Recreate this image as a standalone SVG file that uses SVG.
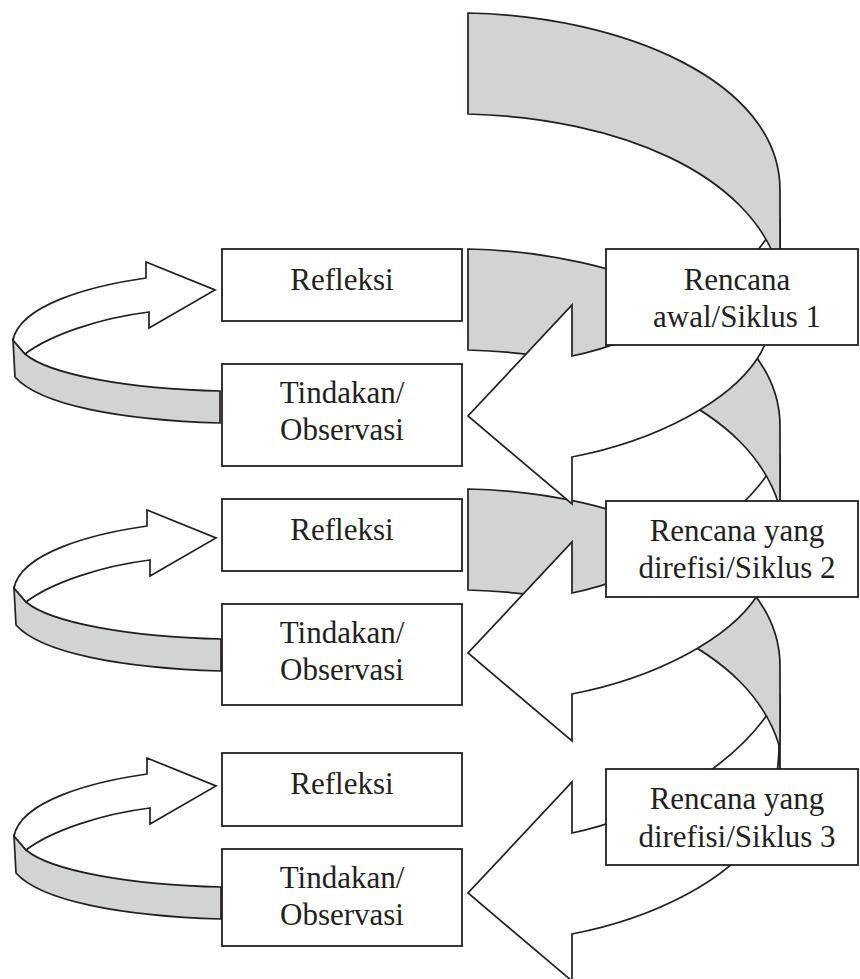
<svg xmlns="http://www.w3.org/2000/svg" width="860" height="979" viewBox="0 0 860 979">
<style>
.g{fill:#d1d3d4;stroke:#231f20;stroke-width:1.7;stroke-linejoin:miter}
.w{fill:#ffffff;stroke:#231f20;stroke-width:1.7;stroke-linejoin:miter}
.box{fill:#ffffff;stroke:#231f20;stroke-width:1.8}
.t{font-family:"Liberation Serif","Times New Roman",serif;font-size:31px;fill:#231f20;text-anchor:middle}
</style>
<defs>
<path id="band" d="M0,0 C152,3 312,67 312,177 L312,290 L311,256 C282,161 152,105 0,101 Z"/>
<path id="warrow" d="M572,356 C650,340 730,290 767,238 L780,220 C781,280 777,330 757,359 C730,400 660,440 572,457 L572,504 L468,416 L572,305 Z"/>
<g id="loopshape">
<path class="g" d="M13,340 L15,377 C40,405 120,420 220,423 L220,391 C130,389 50,375 25,354 Z"/>
<path class="w" d="M146,278 C90,286 20,305 13,340 L25,354 C50,335 100,318 149,312 L149,328 L215,290 L146,262 Z"/>
</g>
</defs>
<g id="connectors">
<use href="#warrow" class="w" transform="translate(0,477)"/>
<use href="#band" class="g" transform="translate(468,489)"/>
<use href="#warrow" class="w" transform="translate(0,237)"/>
<use href="#band" class="g" transform="translate(468,249)"/>
<use href="#warrow" class="w"/>
<use href="#band" class="g" transform="translate(468,13)"/>
<use href="#loopshape"/>
<use href="#loopshape" transform="translate(1,248)"/>
<use href="#loopshape" transform="translate(1,496)"/>
</g>
<g id="refleksi1"><rect class="box" x="222" y="249" width="240" height="72"/><text class="t" x="342" y="290">Refleksi</text></g>
<g id="tindakan1"><rect class="box" x="222" y="364" width="240" height="102"/><text class="t" x="342" y="403">Tindakan/</text><text class="t" x="342" y="440">Observasi</text></g>
<g id="rencana1"><rect class="box" x="606" y="249" width="252" height="96"/><text class="t" x="737" y="290">Rencana</text><text class="t" x="737" y="327">awal/Siklus 1</text></g>
<g id="refleksi2"><rect class="box" x="222" y="499" width="240" height="72"/><text class="t" x="342" y="540">Refleksi</text></g>
<g id="tindakan2"><rect class="box" x="222" y="604" width="240" height="101"/><text class="t" x="342" y="643">Tindakan/</text><text class="t" x="342" y="680">Observasi</text></g>
<g id="rencana2"><rect class="box" x="606" y="501" width="252" height="96"/><text class="t" x="737" y="541">Rencana yang</text><text class="t" x="737" y="578">direfisi/Siklus 2</text></g>
<g id="refleksi3"><rect class="box" x="222" y="753" width="240" height="73"/><text class="t" x="342" y="794">Refleksi</text></g>
<g id="tindakan3"><rect class="box" x="222" y="849" width="240" height="97"/><text class="t" x="342" y="888">Tindakan/</text><text class="t" x="342" y="925">Observasi</text></g>
<g id="rencana3"><rect class="box" x="606" y="769" width="252" height="96"/><text class="t" x="737" y="809">Rencana yang</text><text class="t" x="737" y="847">direfisi/Siklus 3</text></g>
</svg>
